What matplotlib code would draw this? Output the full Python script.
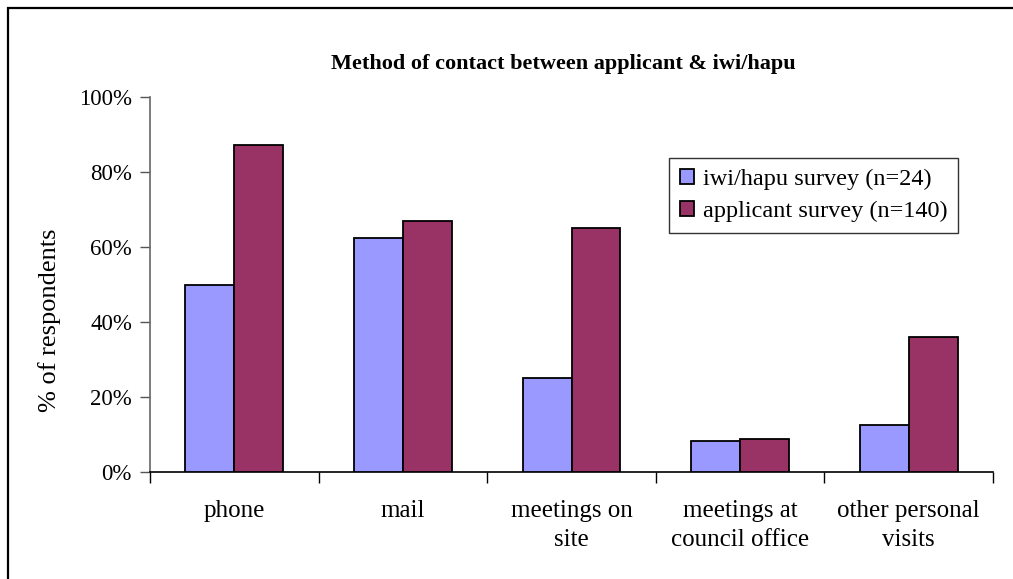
import matplotlib
matplotlib.use("Agg")
import matplotlib.pyplot as plt
import numpy as np
from matplotlib.patches import Rectangle

categories = ["phone", "mail", "meetings on\nsite", "meetings at\ncouncil office", "other personal\nvisits"]
iwi_vals = [50.0, 62.5, 25.0, 8.3, 12.5]
app_vals = [87.1, 67.0, 65.0, 8.9, 35.9]
series_names = ["iwi/hapu survey (n=24)", "applicant survey (n=140)"]
yticks = [0, 20, 40, 60, 80, 100]
ytick_labels = ["0%", "20%", "40%", "60%", "80%", "100%"]

plt.rcParams['font.family'] = ['Liberation Serif', 'DejaVu Serif']

fig = plt.figure(figsize=(10.13, 5.79), dpi=100)
fig.patches.append(Rectangle((8/1013, -0.1), 1.2, 1 - 8/579 + 0.1, transform=fig.transFigure,
                             fill=False, edgecolor='black', linewidth=1.6, zorder=0))

ax = fig.add_axes([150/1013, 1 - 472.3/579, (993 - 150)/1013, (472.3 - 96.7)/579])

x = np.arange(len(categories))
w = 0.29
ax.bar(x - w/2, iwi_vals, w, color='#9999FF', edgecolor='black', linewidth=1.3, label=series_names[0], zorder=3)
ax.bar(x + w/2, app_vals, w, color='#993366', edgecolor='black', linewidth=1.3, label=series_names[1], zorder=3)

ax.set_xlim(-0.5, len(categories) - 0.5)
ax.set_ylim(0, 100)
ax.set_yticks(yticks)
ax.set_yticklabels(ytick_labels, fontsize=16.5)
ax.set_xticks(np.arange(len(categories) + 1) - 0.5)
ax.set_xticklabels([])
ax.set_xticks(x, minor=True)
ax.set_xticklabels(categories, minor=True, fontsize=18, linespacing=1.4)
ax.tick_params(axis='x', which='minor', length=0, pad=20)
ax.tick_params(axis='x', which='major', length=8, direction='out', color='black', width=1)
ax.tick_params(axis='y', length=7, direction='out', color='#555555', width=1, pad=6)

for s in ['top', 'right']:
    ax.spines[s].set_visible(False)
ax.spines['left'].set_color('#666666')
ax.spines['left'].set_linewidth(1.2)
ax.spines['bottom'].set_color('black')
ax.spines['bottom'].set_linewidth(1.2)

fig.text(50/1013, 1 - 320/579, "% of respondents", rotation=90, ha='center', va='center', fontsize=19)

fig.text(563/1013, 1 - 64/579, "Method of contact between applicant & iwi/hapu",
         ha='center', va='center', fontsize=16, fontweight='bold')

leg = ax.legend(loc='upper left', bbox_to_anchor=((669 - 150)/843, 1 - (158 - 96.7)/375.6),
                fontsize=17.5, frameon=True, fancybox=False, edgecolor='black',
                handlelength=0.58, handleheight=0.58, handletextpad=0.35, borderpad=0.45,
                labelspacing=0.45, borderaxespad=0)
leg.get_frame().set_linewidth(1.0)

fig.savefig("out.png", dpi=100)
